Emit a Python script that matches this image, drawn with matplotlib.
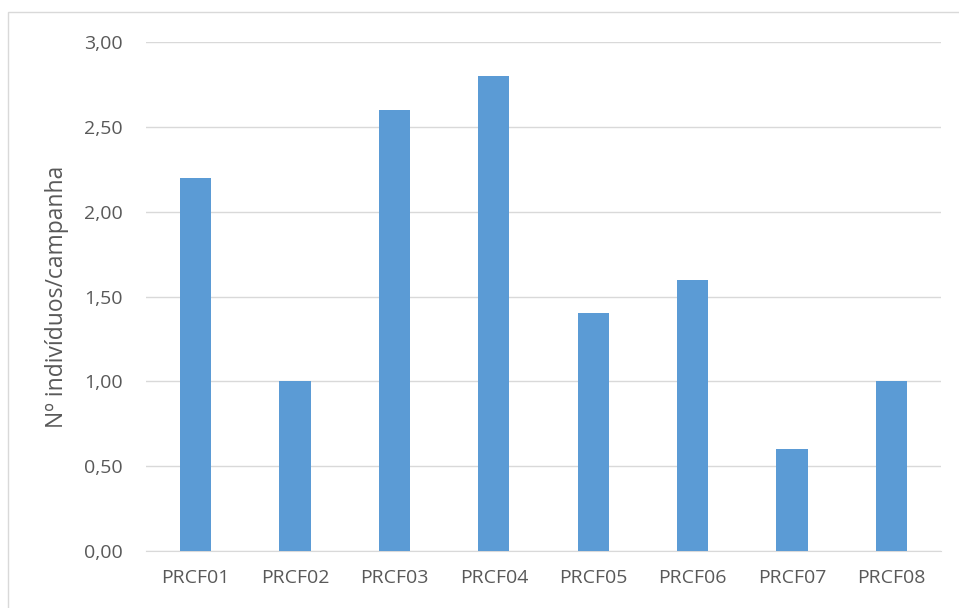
import matplotlib
matplotlib.use("Agg")
import matplotlib.pyplot as plt
from matplotlib.patches import Rectangle
from matplotlib.ticker import FuncFormatter

categories = ["PRCF01", "PRCF02", "PRCF03", "PRCF04", "PRCF05", "PRCF06", "PRCF07", "PRCF08"]
values = [2.2, 1.0, 2.6, 2.8, 1.4, 1.6, 0.6, 1.0]
y_ticks = [0.0, 0.5, 1.0, 1.5, 2.0, 2.5, 3.0]
y_label = "Nº indivíduos/campanha"

plt.rcParams["font.family"] = ["Open Sans", "DejaVu Sans"]
text_color = "#595959"

fig = plt.figure(figsize=(9.59, 6.08), dpi=100)
fig.patches.append(Rectangle((8 / 959, -0.01), 1.0, 1 - 12 / 608 + 0.01,
                             transform=fig.transFigure, fill=False,
                             edgecolor="#D9D9D9", linewidth=1.0))

ax = fig.add_axes([146 / 959, 1 - 551 / 608, (941 - 146) / 959, (551 - 42) / 608])
x = list(range(len(categories)))
ax.bar(x, values, width=0.315, color="#5B9BD5", zorder=3)
ax.set_xlim(-0.5, len(categories) - 0.5)
ax.set_ylim(0, 3.0)
ax.set_yticks(y_ticks)
ax.yaxis.set_major_formatter(FuncFormatter(lambda v, p: f"{v:.2f}".replace(".", ",")))
ax.set_xticks(x)
ax.set_xticklabels(categories)
ax.grid(axis="y", color="#D9D9D9", linewidth=1.0, zorder=0)
for s in ["top", "right", "left"]:
    ax.spines[s].set_visible(False)
ax.spines["bottom"].set_color("#D9D9D9")
ax.tick_params(axis="both", length=0, colors=text_color, labelsize=14)
ax.tick_params(axis="y", pad=16.5)
ax.tick_params(axis="x", pad=13)
ax.set_ylabel(y_label, fontsize=16.5, color=text_color, labelpad=11)

fig.savefig("out.png", dpi=100, facecolor="white")
